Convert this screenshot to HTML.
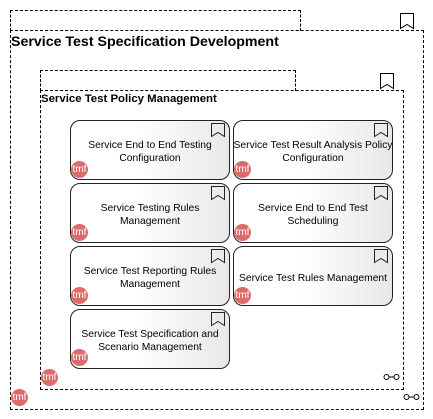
<!DOCTYPE html>
<html><head><style>
body{margin:0;width:433px;height:419px;background:#fff;position:relative;overflow:hidden;font-family:"Liberation Sans",sans-serif}
.d{position:absolute;border:1px dashed #000;box-sizing:border-box}
.t{position:absolute;font-weight:bold;font-family:"Liberation Sans",sans-serif;color:#000;white-space:nowrap}
.c{position:absolute;width:160px;height:60px;border:1px solid #222;border-radius:10px;box-sizing:border-box;background:linear-gradient(90deg,#fff 40%,#e8e8e8);font-size:10.3px;display:flex;align-items:center;justify-content:center;text-align:center;line-height:13px;white-space:nowrap}
.c span{margin-top:4px}
.tmf{position:absolute;width:17px;height:17px;border-radius:50%;background:#de6b6b;color:#fff;font-size:10px;line-height:17px;text-align:center;overflow:hidden}
svg{position:absolute}
</style></head><body>
<div class="d" style="left:10px;top:10px;width:291px;height:21px;border-bottom:none"></div>
<div class="d" style="left:10px;top:30px;width:414px;height:380px"></div>
<div class="t" style="left:11px;top:34px;font-size:14.2px">Service Test Specification Development</div>
<svg style="left:399px;top:12px" width="16" height="18"><path d="M1.5 1.5h13v15l-6.5-4-6.5 4z" fill="#fff" stroke="#000"/></svg>
<div class="d" style="left:40px;top:70px;width:256px;height:21px;border-bottom:none"></div>
<div class="d" style="left:40px;top:90px;width:364px;height:300px"></div>
<div class="t" style="left:41px;top:93px;font-size:11.4px">Service Test Policy Management</div>
<svg style="left:379px;top:72px" width="16" height="18"><path d="M1.5 1.5h13v15l-6.5-4-6.5 4z" fill="#fff" stroke="#000"/></svg>

<div class="c" style="left:70px;top:120px"><span>Service End to End Testing<br>Configuration</span></div>
<div class="c" style="left:233px;top:120px;overflow:visible"><span>Service Test Result Analysis Policy<br>Configuration</span></div>
<div class="c" style="left:70px;top:183px"><span>Service Testing Rules<br>Management</span></div>
<div class="c" style="left:233px;top:183px"><span>Service End to End Test<br>Scheduling</span></div>
<div class="c" style="left:70px;top:246px"><span>Service Test Reporting Rules<br>Management</span></div>
<div class="c" style="left:233px;top:246px"><span>Service Test Rules Management</span></div>
<div class="c" style="left:70px;top:309px"><span>Service Test Specification and<br>Scenario Management</span></div>

<svg style="left:210px;top:122px" width="16" height="16"><path d="M1.5 1.5h13v13l-6.5-4-6.5 4z" fill="none" stroke="#222"/></svg>
<svg style="left:373px;top:122px" width="16" height="16"><path d="M1.5 1.5h13v13l-6.5-4-6.5 4z" fill="none" stroke="#222"/></svg>
<svg style="left:210px;top:185px" width="16" height="16"><path d="M1.5 1.5h13v13l-6.5-4-6.5 4z" fill="none" stroke="#222"/></svg>
<svg style="left:373px;top:185px" width="16" height="16"><path d="M1.5 1.5h13v13l-6.5-4-6.5 4z" fill="none" stroke="#222"/></svg>
<svg style="left:210px;top:248px" width="16" height="16"><path d="M1.5 1.5h13v13l-6.5-4-6.5 4z" fill="none" stroke="#222"/></svg>
<svg style="left:373px;top:248px" width="16" height="16"><path d="M1.5 1.5h13v13l-6.5-4-6.5 4z" fill="none" stroke="#222"/></svg>
<svg style="left:210px;top:311px" width="16" height="16"><path d="M1.5 1.5h13v13l-6.5-4-6.5 4z" fill="none" stroke="#222"/></svg>

<div class="tmf" style="left:71px;top:161px">tmf</div>
<div class="tmf" style="left:234px;top:161px">tmf</div>
<div class="tmf" style="left:71px;top:224px">tmf</div>
<div class="tmf" style="left:234px;top:224px">tmf</div>
<div class="tmf" style="left:71px;top:287px">tmf</div>
<div class="tmf" style="left:234px;top:287px">tmf</div>
<div class="tmf" style="left:71px;top:349px">tmf</div>
<div class="tmf" style="left:41px;top:369px">tmf</div>
<div class="tmf" style="left:11px;top:389px">tmf</div>

<svg style="left:383px;top:373px" width="18" height="8"><circle cx="3.5" cy="4" r="2.5" fill="none" stroke="#000"/><circle cx="13.5" cy="4" r="2.5" fill="none" stroke="#000"/><path d="M6 4h5" stroke="#000"/></svg>
<svg style="left:403px;top:393px" width="18" height="8"><circle cx="3.5" cy="4" r="2.5" fill="none" stroke="#000"/><circle cx="13.5" cy="4" r="2.5" fill="none" stroke="#000"/><path d="M6 4h5" stroke="#000"/></svg>
</body></html>
